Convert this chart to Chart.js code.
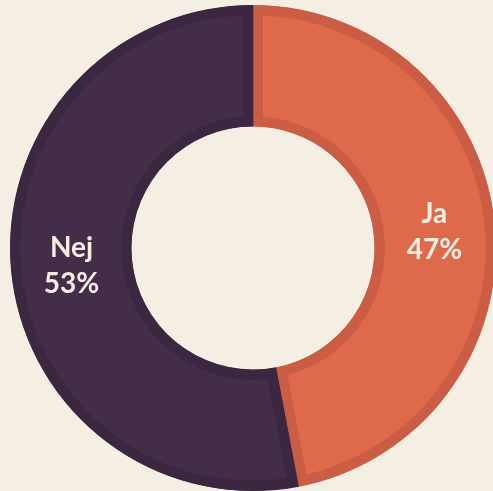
<!DOCTYPE html>
<html>
<head>
<meta charset="utf-8">
<script src="https://cdn.jsdelivr.net/npm/chart.js@4"></script>
<style>
  html, body { margin: 0; padding: 0; background: #f5efe3; overflow: hidden; }
  #wrap { position: absolute; left: 0; top: 0; width: 506px; height: 496px; }
</style>
</head>
<body>
<div id="wrap"><canvas id="pieChart" width="506" height="496"></canvas></div>
<script>
// answers and shares (percent)
const labels = ['Ja', 'Nej'];
const values = [47, 53];
const fillColors = ['#de6a4b', '#442d48'];
const edgeColors = ['#ca5d43', '#3b273f'];

// writes "label\nxx%" in the middle of each slice
const sliceLabels = {
    id: 'sliceLabels',
    afterDatasetsDraw(chart) {
        const ctx = chart.ctx;
        const meta = chart.getDatasetMeta(0);
        ctx.save();
        ctx.fillStyle = '#f7eee2';
        ctx.font = 'bold 28px Lato';
        ctx.textAlign = 'center';
        ctx.textBaseline = 'middle';
        meta.data.forEach((arc, i) => {
            const p = arc.tooltipPosition();
            ctx.fillText(labels[i], p.x, p.y - 17);
            ctx.fillText(values[i] + '%', p.x, p.y + 19);
        });
        ctx.restore();
    }
};

const ctx = document.getElementById('pieChart').getContext('2d');
let chart = new Chart(ctx, {
    type: 'doughnut',
    data: {
        labels: labels,
        datasets: [{
            data: values,
            backgroundColor: fillColors,
            borderColor: edgeColors,
            borderWidth: 10,
            borderAlign: 'inner',
            borderJoinStyle: 'miter'
        }]
    },
    options: {
        responsive: false,
        animation: false,
        events: [],
        cutout: '50%',
        layout: { padding: { left: 10, right: 10, top: 5, bottom: 5 } },
        plugins: {
            legend: { display: false },
            tooltip: { enabled: false }
        }
    },
    plugins: [sliceLabels]
});
</script>
</body>
</html>
